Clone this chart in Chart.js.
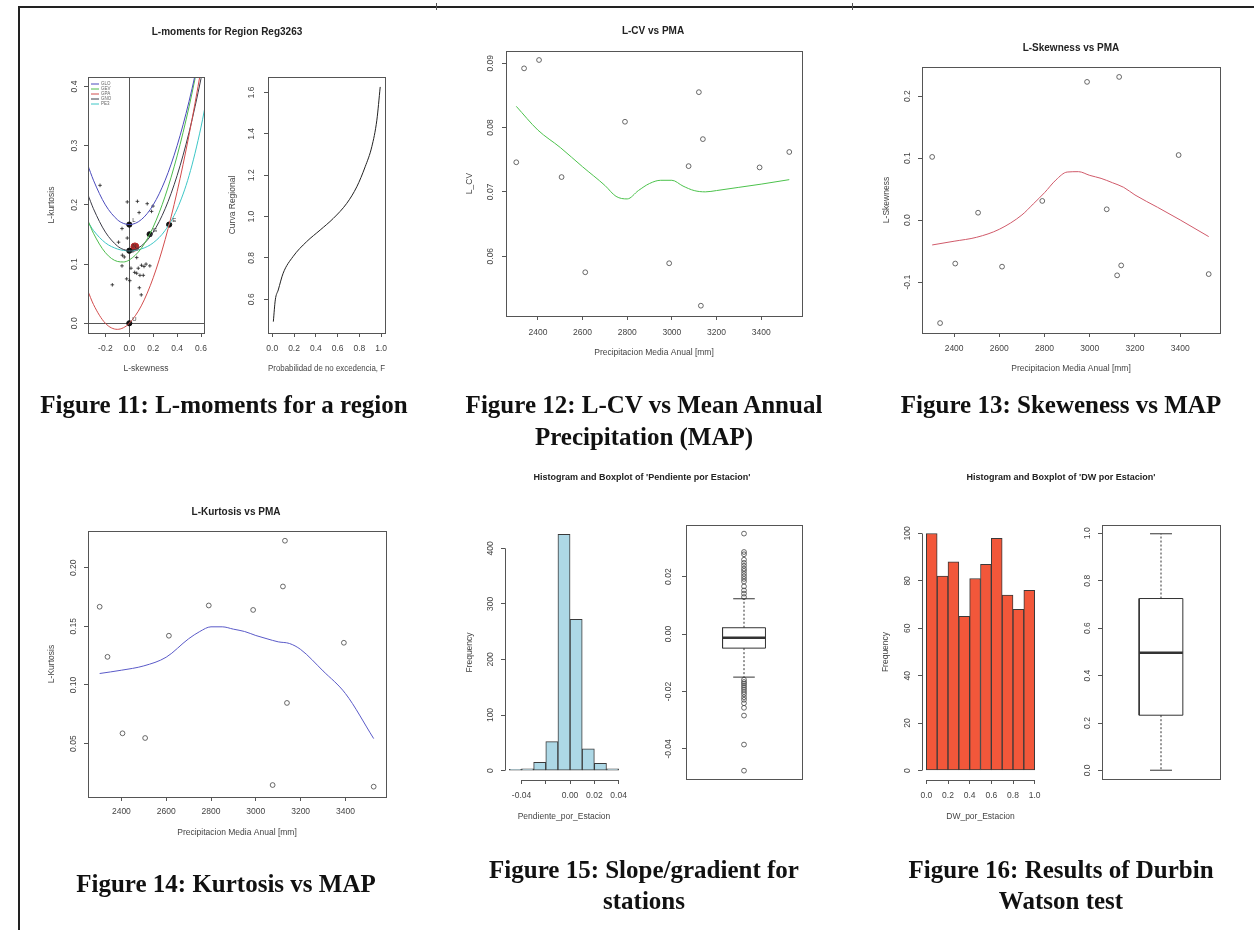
<!DOCTYPE html>
<html lang="es">
<head>
<meta charset="utf-8">
<title>L-moments, PMA and Durbin-Watson figures</title>
<script src="https://cdn.jsdelivr.net/npm/chart.js@4.4.1/dist/chart.umd.min.js"></script>
<style>
  html, body { margin: 0; padding: 0; background: #fff; }
  #page { position: relative; width: 1254px; height: 930px; overflow: hidden; background: #fff; }
  canvas { position: absolute; left: 0; top: 0; }
  .rule-top { position: absolute; left: 18px; top: 6px; width: 1236px; border-top: 2px solid #222; }
  .rule-left { position: absolute; left: 18px; top: 6px; height: 924px; border-left: 2px solid #222; }
  .mark { position: absolute; top: 3px; width: 1px; height: 7px; background: #555; }
  .ptitle { position: absolute; transform: translate(-50%, -50%); white-space: nowrap;
            font: bold 10px "Liberation Sans", Arial, sans-serif; color: #222; }
  .ptitle.small { font-size: 9px; }
  .cap { position: absolute; transform: translateX(-50%); white-space: nowrap; text-align: center;
         font: bold 25px/32px "Liberation Serif", "Times New Roman", serif; color: #111; }
</style>
</head>
<body>
<div id="page">
  <div class="rule-top"></div>
  <div class="rule-left"></div>
  <div class="mark" style="left:436px"></div>
  <div class="mark" style="left:852px"></div>

  <canvas id="c11a" width="1254" height="930"></canvas>
  <canvas id="c11b" width="1254" height="930"></canvas>
  <canvas id="c12" width="1254" height="930"></canvas>
  <canvas id="c13" width="1254" height="930"></canvas>
  <canvas id="c14" width="1254" height="930"></canvas>
  <canvas id="c15a" width="1254" height="930"></canvas>
  <canvas id="c15b" width="1254" height="930"></canvas>
  <canvas id="c16a" width="1254" height="930"></canvas>
  <canvas id="c16b" width="1254" height="930"></canvas>

  <div class="ptitle" style="left:227px;top:31px">L-moments for Region Reg3263</div>
  <div class="ptitle" style="left:653px;top:30px">L-CV vs PMA</div>
  <div class="ptitle" style="left:1071px;top:47px">L-Skewness vs PMA</div>
  <div class="ptitle" style="left:236px;top:511px">L-Kurtosis vs PMA</div>
  <div class="ptitle small" style="left:642px;top:477px">Histogram and Boxplot of 'Pendiente por Estacion'</div>
  <div class="ptitle small" style="left:1061px;top:477px">Histogram and Boxplot of 'DW por Estacion'</div>

  <div class="cap" style="left:224px;top:389px">Figure 11: L-moments for a region</div>
  <div class="cap" style="left:644px;top:389px">Figure 12: L-CV vs Mean Annual<br>Precipitation (MAP)</div>
  <div class="cap" style="left:1061px;top:389px">Figure 13: Skeweness vs MAP</div>
  <div class="cap" style="left:226px;top:868px">Figure 14: Kurtosis vs MAP</div>
  <div class="cap" style="left:644px;top:854px;line-height:31px">Figure 15: Slope/gradient for<br>stations</div>
  <div class="cap" style="left:1061px;top:854px;line-height:31px">Figure 16: Results of Durbin<br>Watson test</div>
</div>

<script>
// ---- Figure 11, left: L-moment ratio diagram ----
const skewGrid = [-0.35, -0.3, -0.2, -0.1, -0.05, 0, 0.1, 0.2, 0.3, 0.4, 0.5, 0.6, 0.65];
const kurtGLO = [0.2688, 0.2417, 0.2000, 0.1750, 0.1688, 0.1667, 0.1750, 0.2000, 0.2417, 0.3000, 0.3750, 0.4667, 0.5188];
const kurtGEV = [0.1754, 0.1521, 0.1193, 0.1045, 0.1036, 0.1070, 0.1265, 0.1626, 0.2148, 0.2827, 0.3658, 0.4638, 0.5182];
const kurtGPA = [0.0565, 0.0319, 0.0000, -0.0102, -0.0076, 0.0000, 0.0294, 0.0769, 0.1415, 0.2222, 0.3182, 0.4286, 0.4889];
const kurtGNO = [0.2194, 0.1935, 0.1540, 0.1306, 0.1248, 0.1228, 0.1306, 0.1540, 0.1935, 0.2495, 0.3226, 0.4133, 0.4656];
const kurtPE3 = [0.1726, 0.1569, 0.1359, 0.1255, 0.1232, 0.1224, 0.1255, 0.1359, 0.1569, 0.1929, 0.2493, 0.3314, 0.3835];
const distNames = ['GLO', 'GEV', 'GPA', 'GNO', 'PE3'];
const siteSkew = [-0.245, -0.017, 0.068, 0.150, 0.198, 0.082, 0.186, -0.061, -0.017, -0.090, -0.058, -0.042, 0.062, -0.061, 0.014,
                  0.075, 0.102, 0.123, 0.140, 0.172, 0.045, 0.062, 0.089, 0.117, -0.022, 0.004, -0.142, 0.084, 0.100, 0.030];
const siteKurt = [0.233, 0.205, 0.206, 0.202, 0.198, 0.187, 0.189, 0.160, 0.144, 0.137, 0.115, 0.112, 0.111, 0.097, 0.093,
                  0.093, 0.098, 0.096, 0.100, 0.097, 0.086, 0.0845, 0.081, 0.081, 0.075, 0.072, 0.065, 0.060, 0.048, 0.122];
const twoparCodes = ['E', 'G', 'L', 'N', 'U'];
const twoparSkew = [0.3333, 0.1699, 0, 0, 0];
const twoparKurt = [0.1667, 0.1504, 0.1667, 0.1226, 0];
const regionSkew = [0.047];
const regionKurt = [0.129];
const lmSkewTicks = [-0.2, 0, 0.2, 0.4, 0.6];
const lmSkewLabels = ['-0.2', '0.0', '0.2', '0.4', '0.6'];
const lmKurtTicks = [0, 0.1, 0.2, 0.3, 0.4];
const lmKurtLabels = ['0.0', '0.1', '0.2', '0.3', '0.4'];

// ---- Figure 11, right: regional growth curve ----
const probF = [0.01, 0.028, 0.055, 0.10, 0.19, 0.316, 0.44, 0.56, 0.684, 0.776, 0.853, 0.914, 0.96, 0.991];
const growth = [0.492, 0.597, 0.645, 0.726, 0.806, 0.879, 0.935, 0.991, 1.064, 1.144, 1.241, 1.338, 1.466, 1.627];
const probTicks = [0, 0.2, 0.4, 0.6, 0.8, 1.0];
const probLabels = ['0.0', '0.2', '0.4', '0.6', '0.8', '1.0'];
const growthTicks = [0.6, 0.8, 1.0, 1.2, 1.4, 1.6];
const growthLabels = ['0.6', '0.8', '1.0', '1.2', '1.4', '1.6'];

// ---- Figures 12-14: L-moment ratios vs mean annual precipitation ----
const pma = [2303, 2338, 2405, 2506, 2612, 2790, 2988, 3075, 3121, 3130, 3139, 3393, 3526];
const lcv = [0.0746, 0.0892, 0.0905, 0.0723, 0.0575, 0.0809, 0.0589, 0.0740, 0.0855, 0.0523, 0.0782, 0.0738, 0.0762];
const lskew = [0.102, -0.166, -0.070, 0.012, -0.075, 0.031, 0.223, 0.0175, -0.089, 0.231, -0.073, 0.105, -0.087];
const lkurt = [0.1667, 0.124, 0.0588, 0.0548, 0.142, 0.1678, 0.164, 0.0147, 0.184, 0.223, 0.0847, 0.136, 0.0133];
const smoothPma = [2303, 2400, 2500, 2600, 2700, 2750, 2800, 2850, 2900, 2950, 3000, 3050, 3100, 3150, 3200, 3300, 3400, 3526];
const lcvSmooth = [0.0833, 0.0796, 0.0769, 0.0739, 0.0710, 0.0693, 0.0689, 0.0702, 0.0713, 0.0718, 0.0718, 0.0709, 0.0702, 0.0700, 0.0702, 0.0707, 0.0712, 0.0719];
const lskewSmooth = [-0.040, -0.034, -0.0276, -0.0147, 0.0084, 0.0261, 0.0443, 0.0647, 0.0776, 0.0782, 0.0722, 0.0674, 0.0604, 0.0529, 0.0406, 0.0207, 0.0003, -0.0265];
const lkurtSmooth = [0.1098, 0.1126, 0.1163, 0.1237, 0.1394, 0.1456, 0.1496, 0.1496, 0.1476, 0.1456, 0.1422, 0.1394, 0.1368, 0.1354, 0.1303, 0.1120, 0.0927, 0.0543];
const pmaTicks = [2400, 2600, 2800, 3000, 3200, 3400];
const pmaLabels = ['2400', '2600', '2800', '3000', '3200', '3400'];
const lcvTicks = [0.06, 0.07, 0.08, 0.09];
const lcvLabels = ['0.06', '0.07', '0.08', '0.09'];
const lskewTicks = [-0.1, 0, 0.1, 0.2];
const lskewLabels = ['-0.1', '0.0', '0.1', '0.2'];
const lkurtTicks = [0.05, 0.10, 0.15, 0.20];
const lkurtLabels = ['0.05', '0.10', '0.15', '0.20'];

// ---- Figure 15: slope per station ----
const slopeBreaks = [-0.05, -0.04, -0.03, -0.02, -0.01, 0, 0.01, 0.02, 0.03, 0.04];
const slopeCounts = [2, 3, 15, 52, 425, 272, 39, 13, 3];
const slopeTicks = [-0.04, -0.02, 0, 0.02, 0.04];
const slopeLabels = ['-0.04', '', '0.00', '0.02', '0.04'];
const slopeFreqTicks = [0, 100, 200, 300, 400];
const slopeFreqLabels = ['0', '100', '200', '300', '400'];
const slopeStats = [-0.0150, -0.0049, -0.0013, 0.0022, 0.0123];   // lower whisker, Q1, median, Q3, upper whisker
const slopeOutliers = [0.0350, 0.0286, 0.0278, 0.0259, 0.0248, 0.0238, 0.0228, 0.0220, 0.0210, 0.0201, 0.0192, 0.0183, 0.0166,
                       0.0152, 0.0141, 0.0129, -0.0159, -0.0167, -0.0173, -0.0180, -0.0187, -0.0194, -0.0202, -0.0210, -0.0220,
                       -0.0229, -0.0241, -0.0257, -0.0284, -0.0385, -0.0476];
const slopeBoxTicks = [-0.04, -0.02, 0, 0.02];
const slopeBoxLabels = ['-0.04', '-0.02', '0.00', '0.02'];

// ---- Figure 16: Durbin-Watson per station ----
const dwBreaks = [0, 0.1, 0.2, 0.3, 0.4, 0.5, 0.6, 0.7, 0.8, 0.9, 1.0];
const dwCounts = [100, 82, 88, 65, 81, 87, 98, 74, 68, 76];
const dwTicks = [0, 0.2, 0.4, 0.6, 0.8, 1.0];
const dwLabels = ['0.0', '0.2', '0.4', '0.6', '0.8', '1.0'];
const dwFreqTicks = [0, 20, 40, 60, 80, 100];
const dwFreqLabels = ['0', '20', '40', '60', '80', '100'];
const dwStats = [0.001, 0.233, 0.496, 0.725, 0.998];
const dwBoxTicks = [0, 0.2, 0.4, 0.6, 0.8, 1.0];
const dwBoxLabels = ['0.0', '0.2', '0.4', '0.6', '0.8', '1.0'];

// ---- styling ----
const W = 1254, H = 930;
const FONT = '"Liberation Sans", Arial, sans-serif';
const TXT = 8.5;
const TICK_LEN = 4;
const INK = '#444';
const distColors = ['#4b4bbd', '#4cbc4c', '#d24c4c', '#3c3c48', '#3cc6c6'];
const BOX_HALF = 0.185, CAP_HALF = 0.093;

const measureCtx = document.createElement('canvas').getContext('2d');
function widest(labels) {
  measureCtx.font = `${TXT}px ${FONT}`;
  return Math.max(...labels.map(s => measureCtx.measureText(s).width));
}

// R-like axis: fixed ticks, outward tick marks, rotated y labels
function axis(pos, min, max, ticks, labels, lab, title, titleOff) {
  const vert = pos === 'left';
  const lh = TXT * 1.2;
  const size = title ? titleOff + lh / 2 : lab + 10;
  const pad = vert ? lab - TICK_LEN - widest(labels) / 2 : lab - TICK_LEN - lh / 2;
  return {
    size,
    cfg: {
      type: 'linear', position: pos, min, max, offset: false,
      afterBuildTicks: s => { s.ticks = ticks.map(v => ({ value: v })); },
      afterFit: s => { if (vert) s.width = size; else s.height = size; },
      ticks: {
        autoSkip: false, padding: pad, color: INK, font: { family: FONT, size: TXT },
        minRotation: vert ? 90 : 0, maxRotation: vert ? 90 : 0,
        crossAlign: vert ? 'center' : 'near',
        callback: (v, i) => labels[i]
      },
      grid: { drawOnChartArea: false, drawTicks: true, tickLength: TICK_LEN, color: '#555', offset: false },
      border: { display: false },
      title: { display: !!title, text: title || '', color: INK, padding: 0, font: { family: FONT, size: TXT } }
    }
  };
}
function hiddenAxis(min, max) {
  return { size: 0, cfg: { type: 'linear', display: false, min, max, offset: false } };
}

const rStyle = {
  id: 'rStyle',
  beforeDatasetsDraw(chart, args, o) {
    const { ctx, chartArea: a, scales: { x, y } } = chart;
    ctx.save();
    ctx.strokeStyle = '#555';
    ctx.lineWidth = 1;
    (o.refX || []).forEach(v => {
      const px = Math.round(x.getPixelForValue(v)) + 0.5;
      ctx.beginPath(); ctx.moveTo(px, a.top); ctx.lineTo(px, a.bottom); ctx.stroke();
    });
    (o.refY || []).forEach(v => {
      const py = Math.round(y.getPixelForValue(v)) + 0.5;
      ctx.beginPath(); ctx.moveTo(a.left, py); ctx.lineTo(a.right, py); ctx.stroke();
    });
    ctx.restore();
  },
  afterDatasetsDraw(chart, args, o) {
    const { ctx, chartArea: a, scales: { x, y } } = chart;
    ctx.save();
    ctx.strokeStyle = '#555';
    ctx.lineWidth = 1;
    if (o.box) {
      ctx.strokeRect(Math.round(a.left) + 0.5, Math.round(a.top) + 0.5, Math.round(a.width), Math.round(a.height));
    }
    if (o.axes) {
      const xs = x.ticks.map(t => x.getPixelForValue(t.value));
      const ys = y.ticks.map(t => y.getPixelForValue(t.value));
      const bx = Math.round(a.bottom) + 0.5, lx = Math.round(a.left) + 0.5;
      ctx.beginPath();
      ctx.moveTo(xs[0], bx); ctx.lineTo(xs[xs.length - 1], bx);
      ctx.moveTo(lx, ys[0]); ctx.lineTo(lx, ys[ys.length - 1]);
      ctx.stroke();
    }
    // letters beside the two-parameter distribution points
    ctx.fillStyle = '#333';
    ctx.font = `6px ${FONT}`;
    ctx.textBaseline = 'middle';
    chart.data.datasets.forEach((ds, i) => {
      if (!ds.letters) return;
      chart.getDatasetMeta(i).data.forEach((pt, j) => ctx.fillText(ds.letters[j], pt.x + 3, pt.y - 4));
    });
    // small legend at the top-left of the diagram
    if (o.legend) {
      let row = 0;
      chart.data.datasets.forEach(ds => {
        if (!ds.inLegend) return;
        const yy = a.top + 7 + row * 5;
        ctx.strokeStyle = ds.borderColor;
        ctx.beginPath(); ctx.moveTo(a.left + 3, yy); ctx.lineTo(a.left + 11, yy); ctx.stroke();
        ctx.fillStyle = '#666';
        ctx.font = `4.5px ${FONT}`;
        ctx.fillText(ds.label, a.left + 13, yy);
        row++;
      });
    }
    ctx.restore();
  }
};

function makeChart(id, area, xa, ya, datasets, deco) {
  return new Chart(document.getElementById(id), {
    type: 'scatter',
    data: { datasets },
    options: {
      responsive: false,
      animation: false,
      devicePixelRatio: 1,
      layout: { padding: { left: area[0] - ya.size, top: area[1], right: W - area[2], bottom: H - area[3] - xa.size } },
      plugins: { legend: { display: false }, tooltip: { enabled: false }, rStyle: deco || {} },
      scales: { x: xa.cfg, y: ya.cfg }
    },
    plugins: [rStyle]
  });
}

const xy = (xs, ys) => xs.map((v, i) => ({ x: v, y: ys[i] }));
const circles = (data) => ({
  type: 'scatter', data, pointStyle: 'circle', pointRadius: 2.4, pointBorderWidth: 0.8,
  pointBorderColor: '#444', pointBackgroundColor: 'rgba(0,0,0,0)', clip: false
});
const smoothLine = (data, color) => ({
  type: 'line', data, borderColor: color, borderWidth: 1, pointRadius: 0, cubicInterpolationMode: 'monotone'
});
const histBars = (breaks, counts, fill) => ({
  type: 'bar',
  data: counts.map((c, i) => ({ x: (breaks[i] + breaks[i + 1]) / 2, y: c })),
  backgroundColor: fill, borderColor: '#3a3a3a', borderWidth: 1, borderSkipped: false,
  barPercentage: 1, categoryPercentage: 1
});
function boxSets(stats, outliers) {
  const [lo, q1, med, q3, hi] = stats;
  const seg = (pts, extra) => Object.assign({ type: 'line', data: pts, borderColor: '#333', borderWidth: 1, pointRadius: 0 }, extra);
  return [
    seg([{ x: 1, y: q3 }, { x: 1, y: hi }], { borderDash: [2, 2] }),
    seg([{ x: 1, y: q1 }, { x: 1, y: lo }], { borderDash: [2, 2] }),
    seg([{ x: 1 - CAP_HALF, y: hi }, { x: 1 + CAP_HALF, y: hi }]),
    seg([{ x: 1 - CAP_HALF, y: lo }, { x: 1 + CAP_HALF, y: lo }]),
    seg([{ x: 1 - BOX_HALF, y: q1 }, { x: 1 + BOX_HALF, y: q1 }, { x: 1 + BOX_HALF, y: q3 },
         { x: 1 - BOX_HALF, y: q3 }, { x: 1 - BOX_HALF, y: q1 }], { backgroundColor: '#fff', fill: true }),
    seg([{ x: 1 - BOX_HALF, y: med }, { x: 1 + BOX_HALF, y: med }], { borderWidth: 2.5 }),
    circles(outliers.map(v => ({ x: 1, y: v })))
  ];
}

// Figure 11 left
makeChart('c11a', [88, 77, 204, 333],
  axis('bottom', -0.3456, 0.625, lmSkewTicks, lmSkewLabels, 16, 'L-skewness', 36),
  axis('left', -0.0164, 0.416, lmKurtTicks, lmKurtLabels, 13, 'L-kurtosis', 36),
  [
    ...[kurtGLO, kurtGEV, kurtGPA, kurtGNO, kurtPE3].map((k, i) => Object.assign(
      smoothLine(xy(skewGrid, k), distColors[i]), { label: distNames[i], inLegend: true })),
    { type: 'scatter', data: xy(siteSkew, siteKurt), pointStyle: 'cross', pointRadius: 1.8,
      pointBorderWidth: 0.8, pointBorderColor: '#222', clip: false },
    { type: 'scatter', data: xy(twoparSkew, twoparKurt), letters: twoparCodes, pointStyle: 'circle',
      pointRadius: 2.6, pointBackgroundColor: '#111', pointBorderColor: '#111', clip: false },
    { type: 'scatter', data: xy(regionSkew, regionKurt), pointStyle: 'circle', pointRadius: 4,
      pointBackgroundColor: '#b32828', pointBorderColor: '#b32828', clip: false }
  ],
  { box: true, refX: [0], refY: [0], legend: true });

// Figure 11 right
makeChart('c11b', [268, 77, 385, 333],
  axis('bottom', -0.039, 1.035, probTicks, probLabels, 16, 'Probabilidad de no excedencia, F', 36),
  axis('left', 0.437, 1.675, growthTicks, growthLabels, 16, 'Curva Regional', 35),
  [smoothLine(xy(probF, growth), '#222')],
  { box: true });

// Figure 12
makeChart('c12', [506, 51, 802, 316],
  axis('bottom', 2257, 3583, pmaTicks, pmaLabels, 17, 'Precipitacion Media Anual [mm]', 37),
  axis('left', 0.0507, 0.0919, lcvTicks, lcvLabels, 15, 'L_CV', 36),
  [smoothLine(xy(smoothPma, lcvSmooth), '#4cc24c'), circles(xy(pma, lcv))],
  { box: true });

// Figure 13
makeChart('c13', [922, 67, 1220, 333],
  axis('bottom', 2258, 3576, pmaTicks, pmaLabels, 16, 'Precipitacion Media Anual [mm]', 36),
  axis('left', -0.182, 0.247, lskewTicks, lskewLabels, 14, 'L-Skewness', 35),
  [smoothLine(xy(smoothPma, lskewSmooth), '#d05a6a'), circles(xy(pma, lskew))],
  { box: true });

// Figure 14
makeChart('c14', [88, 531, 386, 797],
  axis('bottom', 2251, 3581, pmaTicks, pmaLabels, 15, 'Precipitacion Media Anual [mm]', 36),
  axis('left', 0.0045, 0.2313, lkurtTicks, lkurtLabels, 14, 'L-Kurtosis', 36),
  [smoothLine(xy(smoothPma, lkurtSmooth), '#5a5ac8'), circles(xy(pma, lkurt))],
  { box: true });

// Figure 15
makeChart('c15a', [505, 525, 623, 780],
  axis('bottom', -0.0536, 0.0436, slopeTicks, slopeLabels, 16, 'Pendiente_por_Estacion', 37),
  axis('left', -17, 442, slopeFreqTicks, slopeFreqLabels, 14, 'Frequency', 35),
  [histBars(slopeBreaks, slopeCounts, '#add8e6')],
  { axes: true });
makeChart('c15b', [686, 525, 802, 779],
  hiddenAxis(0.5, 1.5),
  axis('left', -0.0505, 0.038, slopeBoxTicks, slopeBoxLabels, 17),
  boxSets(slopeStats, slopeOutliers),
  { box: true });

// Figure 16
makeChart('c16a', [922, 524, 1039, 780],
  axis('bottom', -0.04, 1.04, dwTicks, dwLabels, 16, 'DW_por_Estacion', 37),
  axis('left', -4, 104, dwFreqTicks, dwFreqLabels, 14, 'Frequency', 36),
  [histBars(dwBreaks, dwCounts, '#f2573a')],
  { axes: true });
makeChart('c16b', [1102, 525, 1220, 779],
  hiddenAxis(0.5, 1.5),
  axis('left', -0.036, 1.035, dwBoxTicks, dwBoxLabels, 14),
  boxSets(dwStats, []),
  { box: true });
</script>
</body>
</html>
